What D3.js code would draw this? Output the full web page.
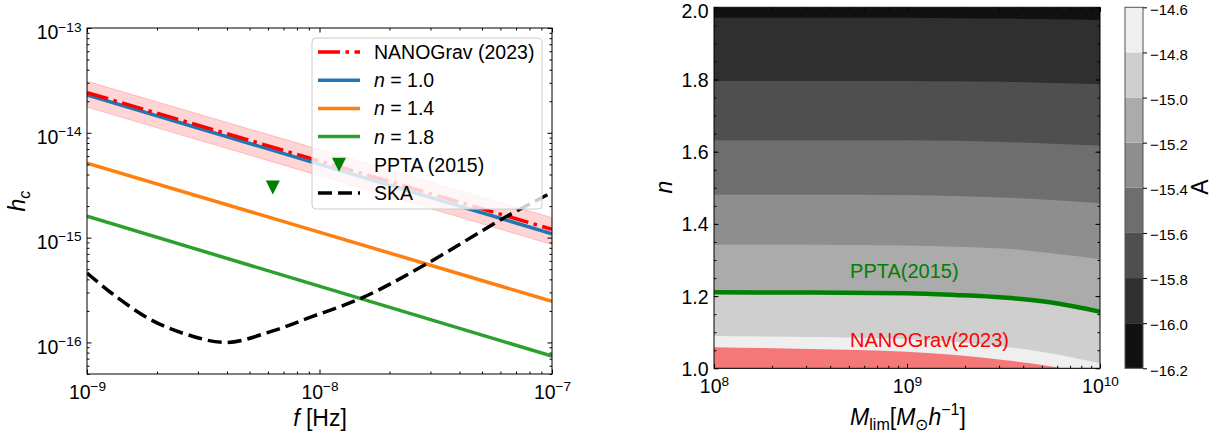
<!DOCTYPE html>
<html>
<head>
<meta charset="utf-8">
<script src="https://cdn.jsdelivr.net/npm/d3@7"></script>
<style>
body { margin: 0; background: #fff; }
svg { display: block; font-family: "Liberation Sans", Arial, sans-serif; }
</style>
</head>
<body>
<div class="container"></div>
<script>
// ---- left panel data (h_c vs f) ----
var fEnds = [1e-9, 1e-7];
var nanogravHc = [2.42e-14, 1.2e-15];
var nanogravLow = [1.76e-14, 8.6e-16];
var nanogravHigh = [3.1e-14, 1.55e-15];
var hcN10 = [2.3e-14, 1.09e-15];
var hcN14 = [5.14e-15, 2.47e-16];
var hcN18 = [1.6e-15, 7.4e-17];
var pptaF = [6.3e-9];
var pptaHc = [3.0e-15];
var skaF = [1e-9, 1.29e-9, 1.87e-9, 2.69e-9, 4.0e-9, 6.3e-9, 9.4e-9, 1.54e-8, 2.84e-8, 6.4e-8, 1e-7];
var skaHc = [4.6e-16, 2.9e-16, 1.66e-16, 1.19e-16, 1.0e-16, 1.29e-16, 1.78e-16, 2.69e-16, 5.5e-16, 1.6e-15, 2.7e-15];
var legendLabels = ['NANOGrav (2023)', '1.0', '1.4', '1.8', 'PPTA (2015)', 'SKA'];

// ---- right panel data (contours of A over M_lim, n) ----
var massGrid = [1e8, 3.16e8, 1e9, 1.78e9, 3.16e9, 5.62e9, 1e10];
var contourLevels = [-16.0, -15.8, -15.6, -15.4, -15.2, -15.0, -14.8];
var contourN = [
    [1.971, 1.971, 1.971, 1.970, 1.969, 1.967, 1.965],
    [1.796, 1.796, 1.796, 1.795, 1.794, 1.790, 1.787],
    [1.632, 1.632, 1.632, 1.630, 1.627, 1.622, 1.617],
    [1.481, 1.481, 1.480, 1.477, 1.473, 1.466, 1.457],
    [1.342, 1.342, 1.340, 1.337, 1.332, 1.319, 1.302],
    [1.2105, 1.2097, 1.2078, 1.2031, 1.1961, 1.1823, 1.1568],
    [1.0895, 1.0867, 1.0812, 1.0729, 1.0604, 1.041, 1.0139]
];
var nanogravN = [1.0582, 1.0535, 1.046, 1.0368, 1.023, 1.005, 0.98];
var colorbarTicks = [-16.2, -16.0, -15.8, -15.6, -15.4, -15.2, -15.0, -14.8, -14.6];

var GREYS = ['#111111', '#2f2f2f', '#4f4f4f', '#6e6e6e', '#8e8e8e', '#ababab', '#cfcfcf', '#efefef'];
var FONT = 19.5;

var svg = d3.select('.container').append('svg')
    .attr('width', 1223).attr('height', 439);

var supLabel = function (sel) {
    sel.each(function (d) {
        var t = d3.select(this);
        var e = Math.round(Math.log10(d));
        t.text(null);
        t.append('tspan').text('10');
        t.append('tspan').attr('dy', '-0.56em').attr('font-size', '0.7em')
            .text(e < 0 ? '\u2212' + (-e) : e);
    });
};

var styleAxis = function (g) {
    g.attr('font-family', null).attr('font-size', FONT);
    g.select('.domain').remove();
    g.selectAll('.tick line').attr('stroke', '#000').attr('stroke-width', 1);
    g.selectAll('.tick text').attr('fill', '#000');
};

var minorLog = function (lo, hi) {
    var out = [];
    for (var p = Math.floor(Math.log10(lo)); p <= Math.ceil(Math.log10(hi)); p++) {
        for (var k = 2; k <= 9; k++) {
            var v = k * Math.pow(10, p);
            if (v >= lo * 0.999 && v <= hi * 1.001) out.push(v);
        }
    }
    return out;
};

// frame + ticks on four sides, ticks pointing in
var drawFrame = function (g, x, y, xMajor, xMinor, yMajor, yMinor, xFmt, yFmt) {
    var x0 = x.range()[0], x1 = x.range()[1], y0 = y.range()[0], y1 = y.range()[1];
    var tickSets = [
        [d3.axisBottom(x).tickValues(xMajor).tickSize(-4.5), 'translate(0,' + y0 + ')', true],
        [d3.axisBottom(x).tickValues(xMinor).tickSize(-2.5).tickFormat(''), 'translate(0,' + y0 + ')'],
        [d3.axisTop(x).tickValues(xMajor).tickSize(-4.5).tickFormat(''), 'translate(0,' + y1 + ')'],
        [d3.axisTop(x).tickValues(xMinor).tickSize(-2.5).tickFormat(''), 'translate(0,' + y1 + ')'],
        [d3.axisLeft(y).tickValues(yMajor).tickSize(-4.5), 'translate(' + x0 + ',0)', true],
        [d3.axisLeft(y).tickValues(yMinor).tickSize(-2.5).tickFormat(''), 'translate(' + x0 + ',0)'],
        [d3.axisRight(y).tickValues(yMajor).tickSize(-4.5).tickFormat(''), 'translate(' + x1 + ',0)'],
        [d3.axisRight(y).tickValues(yMinor).tickSize(-2.5).tickFormat(''), 'translate(' + x1 + ',0)']
    ];
    var axes = tickSets.map(function (s) {
        var a = g.append('g').attr('transform', s[1]).call(s[0].tickSizeOuter(0));
        styleAxis(a);
        return a;
    });
    axes[0].selectAll('.tick text').attr('y', 25).attr('dy', 0).call(xFmt);
    axes[4].selectAll('.tick text').attr('x', -5.5).attr('dy', yFmt.dy).call(yFmt.fn);
    return axes;
};

var closeFrame = function (g, x, y) {
    var x0 = x.range()[0], x1 = x.range()[1], y0 = y.range()[0], y1 = y.range()[1];
    g.append('rect')
        .attr('x', x0).attr('y', y1)
        .attr('width', x1 - x0).attr('height', y0 - y1)
        .attr('fill', 'none').attr('stroke', '#000').attr('stroke-width', 1);
};

// ================= left panel =================
var xL = d3.scaleLog().domain([1e-9, 1e-7]).range([87, 552]);
var yL = d3.scaleLog().domain([5e-17, 1e-13]).range([374, 28]);
var left = svg.append('g').classed('leftPanel', true);

left.append('clipPath').attr('id', 'clipL').append('rect')
    .attr('x', 87).attr('y', 28).attr('width', 465).attr('height', 346);
var plotL = left.append('g').attr('clip-path', 'url(#clipL)');

var bandData = fEnds.map(function (f, i) { return {f: f, lo: nanogravLow[i], hi: nanogravHigh[i]}; });
plotL.append('path')
    .datum(bandData)
    .attr('d', d3.area().x(function (d) { return xL(d.f); })
        .y0(function (d) { return yL(d.lo); }).y1(function (d) { return yL(d.hi); }))
    .attr('fill', '#ff0000').attr('fill-opacity', 0.17)
    .attr('stroke', '#ff0000').attr('stroke-opacity', 0.2).attr('stroke-width', 1);

var lineL = d3.line().x(function (d) { return xL(d[0]); }).y(function (d) { return yL(d[1]); });
var zipF = function (fs, hs) { return fs.map(function (f, i) { return [f, hs[i]]; }); };

var series = [
    {data: hcN10, color: '#1f77b4'},
    {data: hcN14, color: '#ff7f0e'},
    {data: hcN18, color: '#2ca02c'}
];
series.forEach(function (s) {
    plotL.append('path').datum(zipF(fEnds, s.data)).attr('d', lineL)
        .attr('fill', 'none').attr('stroke', s.color).attr('stroke-width', 3.5);
});
plotL.append('path').datum(zipF(fEnds, nanogravHc)).attr('d', lineL)
    .attr('fill', 'none').attr('stroke', '#ff0000').attr('stroke-width', 3.5)
    .attr('stroke-dasharray', '22,5.5,3.5,5.5');

var triPath = function (s) {
    return 'M' + (-s) + ',' + (-s) + 'L' + s + ',' + (-s) + 'L0,' + s + 'Z';
};
plotL.selectAll('.ppta').data(zipF(pptaF, pptaHc)).enter().append('path')
    .attr('d', triPath(7))
    .attr('transform', function (d) { return 'translate(' + xL(d[0]) + ',' + yL(d[1]) + ')'; })
    .attr('fill', '#008000');

plotL.append('path').datum(zipF(skaF, skaHc))
    .attr('d', lineL.curve(d3.curveCatmullRom.alpha(0.5)))
    .attr('fill', 'none').attr('stroke', '#000').attr('stroke-width', 3.5)
    .attr('stroke-dasharray', '14,6');
lineL.curve(d3.curveLinear);

drawFrame(left, xL, yL,
    [1e-9, 1e-8, 1e-7], minorLog(1e-9, 1e-7),
    [1e-16, 1e-15, 1e-14, 1e-13], minorLog(5e-17, 1e-13),
    supLabel, {dy: '0.55em', fn: supLabel});
closeFrame(left, xL, yL);

// legend
var legend = left.append('g').classed('legend', true);
legend.append('rect')
    .attr('x', 312).attr('y', 38).attr('width', 230).attr('height', 171)
    .attr('rx', 4).attr('fill', '#fff').attr('fill-opacity', 0.8)
    .attr('stroke', '#cccccc').attr('stroke-width', 1);
var legendRows = d3.range(legendLabels.length).map(function (i) { return 52 + i * 28.2; });
var legendStyles = [
    {type: 'line', color: '#ff0000', dash: '22,5.5,3.5,5.5'},
    {type: 'line', color: '#1f77b4'},
    {type: 'line', color: '#ff7f0e'},
    {type: 'line', color: '#2ca02c'},
    {type: 'marker', color: '#008000'},
    {type: 'line', color: '#000', dash: '14,6'}
];
legendLabels.forEach(function (label, i) {
    var y = legendRows[i];
    var st = legendStyles[i];
    if (st.type === 'line') {
        legend.append('line').attr('x1', 318).attr('x2', 360).attr('y1', y).attr('y2', y)
            .attr('stroke', st.color).attr('stroke-width', 3.5)
            .attr('stroke-dasharray', st.dash || null);
    } else {
        legend.append('path').attr('d', triPath(7))
            .attr('transform', 'translate(339,' + y + ')').attr('fill', st.color);
    }
    var t = legend.append('text').attr('x', 374).attr('y', y).attr('dy', '0.36em')
        .attr('font-size', FONT);
    if (i >= 1 && i <= 3) {
        t.append('tspan').attr('font-style', 'italic').text('n');
        t.append('tspan').text(' = ' + label);
    } else {
        t.text(label);
    }
});

// axis labels
var hLabel = left.append('text')
    .attr('transform', 'translate(25,201) rotate(-90)')
    .attr('text-anchor', 'middle').attr('font-size', 23);
hLabel.append('tspan').attr('font-style', 'italic').text('h');
hLabel.append('tspan').attr('font-style', 'italic').attr('font-size', '0.7em').attr('dy', '0.3em').text('c');

var fLabel = left.append('text')
    .attr('x', 320).attr('y', 426)
    .attr('text-anchor', 'middle').attr('font-size', 23);
fLabel.append('tspan').attr('font-style', 'italic').text('f');
fLabel.append('tspan').text(' [Hz]');

// ================= right panel =================
var xR = d3.scaleLog().domain([1e8, 1e10]).range([714, 1100]);
var yR = d3.scaleLinear().domain([1.0, 2.0]).range([368.3, 7.3]);
var right = svg.append('g').classed('rightPanel', true);
right.append('clipPath').attr('id', 'clipR').append('rect')
    .attr('x', 714).attr('y', 7.3).attr('width', 386).attr('height', 361);
var plotR = right.append('g').attr('clip-path', 'url(#clipR)');

plotR.append('rect')
    .attr('x', 714).attr('y', 7.3).attr('width', 386).attr('height', 361)
    .attr('fill', GREYS[0]);

var fillBelow = d3.area()
    .x(function (d) { return xR(d[0]); })
    .y0(yR(0.9))
    .y1(function (d) { return yR(d[1]); })
    .curve(d3.curveMonotoneX);
var lineR = d3.line()
    .x(function (d) { return xR(d[0]); })
    .y(function (d) { return yR(d[1]); })
    .curve(d3.curveMonotoneX);

contourLevels.forEach(function (lev, i) {
    plotR.append('path').datum(zipF(massGrid, contourN[i]))
        .attr('d', fillBelow).attr('fill', GREYS[i + 1]);
});
plotR.append('path').datum(zipF(massGrid, nanogravN))
    .attr('d', fillBelow).attr('fill', '#f47878');

var pptaIdx = contourLevels.indexOf(-15.0);
plotR.append('path').datum(zipF(massGrid, contourN[pptaIdx]))
    .attr('d', lineR).attr('fill', 'none').attr('stroke', '#008000').attr('stroke-width', 4.5);

plotR.append('text').attr('x', xR(5.07e8)).attr('y', yR(1.25))
    .attr('font-size', 20).attr('fill', '#008000').text('PPTA(2015)');
plotR.append('text').attr('x', xR(5.07e8)).attr('y', yR(1.06))
    .attr('font-size', 20).attr('fill', '#ff0000').text('NANOGrav(2023)');

var fmt1 = d3.format('.1f');
var axesR = drawFrame(right, xR, yR,
    [1e8, 1e9, 1e10], minorLog(1e8, 1e10),
    d3.range(1.0, 2.01, 0.2), d3.range(1.05, 2.0, 0.05),
    supLabel, {dy: '0.36em', fn: function (sel) { sel.text(function (d) { return fmt1(d); }); }});
// the top label sits a little lower, as in the reference
axesR[4].selectAll('.tick text').filter(function (d) { return d > 1.99; }).attr('dy', '0.53em');
closeFrame(right, xR, yR);

var nLabel = right.append('text')
    .attr('transform', 'translate(672,187) rotate(-90)')
    .attr('text-anchor', 'middle').attr('font-size', 23)
    .attr('font-style', 'italic').text('n');

var mLabel = right.append('text')
    .attr('x', 908).attr('y', 425)
    .attr('text-anchor', 'middle').attr('font-size', 23);
mLabel.append('tspan').attr('font-style', 'italic').text('M');
mLabel.append('tspan').attr('font-size', '0.7em').attr('dy', '0.3em').text('lim');
mLabel.append('tspan').attr('dy', '-0.21em').text('[');
mLabel.append('tspan').attr('font-style', 'italic').text('M');
mLabel.append('tspan').attr('font-size', '0.7em').attr('dy', '0.3em').text('\u2299');
mLabel.append('tspan').attr('font-style', 'italic').attr('dy', '-0.21em').text('h');
mLabel.append('tspan').attr('font-size', '0.7em').attr('dy', '-0.62em').text('\u22121');
mLabel.append('tspan').attr('dy', '0.434em').text(']');

// colorbar
var yC = d3.scaleLinear().domain([-16.2, -14.6]).range([368.3, 7.3]);
var cbar = svg.append('g').classed('colorbar', true);
cbar.selectAll('rect.band').data(d3.pairs(colorbarTicks)).enter().append('rect')
    .attr('x', 1125).attr('width', 18)
    .attr('y', function (d) { return yC(d[1]); })
    .attr('height', function (d) { return yC(d[0]) - yC(d[1]); })
    .attr('fill', function (d, i) { return GREYS[i]; });
cbar.append('rect').attr('x', 1125).attr('y', 7.3).attr('width', 18).attr('height', 361)
    .attr('fill', 'none').attr('stroke', '#555').attr('stroke-width', 1);
var cAxis = cbar.append('g').attr('transform', 'translate(1143,0)')
    .call(d3.axisRight(yC).tickValues(colorbarTicks).tickSize(4).tickPadding(3)
        .tickSizeOuter(0).tickFormat(fmt1));
styleAxis(cAxis);
cAxis.attr('font-size', 15);
cAxis.selectAll('.tick text').attr('dy', '0.45em');

cbar.append('text')
    .attr('transform', 'translate(1208,187) rotate(-90)')
    .attr('text-anchor', 'middle').attr('font-size', 23).text('A');
</script>
</body>
</html>
